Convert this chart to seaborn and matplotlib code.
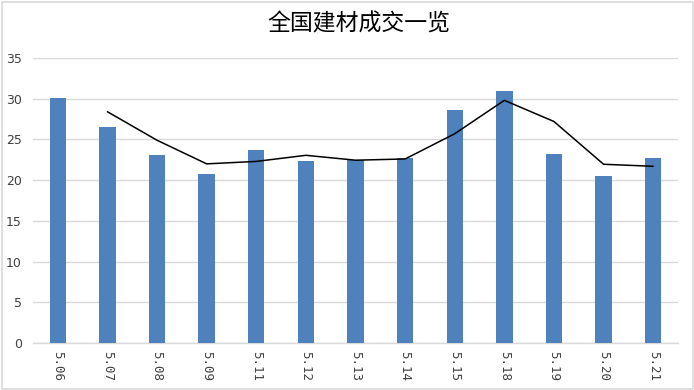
import matplotlib
matplotlib.use("Agg")
import matplotlib.pyplot as plt
import seaborn as sns
import pandas as pd
import numpy as np
from matplotlib.patches import Rectangle

dates = ["5.06", "5.07", "5.08", "5.09", "5.11", "5.12", "5.13",
         "5.14", "5.15", "5.18", "5.19", "5.20", "5.21"]
volume = [30.1, 26.5, 23.1, 20.8, 23.7, 22.4, 22.5,
          22.7, 28.6, 31.0, 23.2, 20.5, 22.7]
# trend line, starts at 5.07
trend_dates = dates[1:]
trend = [28.4, 24.9, 22.0, 22.3, 23.05, 22.45, 22.6,
         25.7, 29.8, 27.2, 21.95, 21.7]

sns.set_theme(style="white")
plt.rcParams['font.family'] = ['Noto Sans CJK SC', 'DejaVu Sans']

fig = plt.figure(figsize=(6.94, 3.90), dpi=100)
ax = fig.add_axes([33/694, (390-343)/390, (678-33)/694, (343-58)/390])

df = pd.DataFrame({"date": dates, "volume": volume})
sns.barplot(data=df, x="date", y="volume", color="#4F81BD", saturation=1,
            width=0.33, ax=ax, zorder=3, edgecolor="none", linewidth=0)

pos = {d: i for i, d in enumerate(dates)}
tdf = pd.DataFrame({"x": [pos[d] for d in trend_dates], "v": trend})
sns.lineplot(data=tdf, x="x", y="v", color="black", linewidth=1.1, ax=ax, zorder=4)

ax.set_xlim(-0.5, len(dates) - 0.5)
ax.set_ylim(0, 35)
ax.set_yticks(np.arange(0, 36, 5))
ax.yaxis.grid(True, color="#D9D9D9", linewidth=1)
ax.set_axisbelow(True)
for s in ["top", "right", "left"]:
    ax.spines[s].set_visible(False)
ax.spines["bottom"].set_color("#D9D9D9")
ax.spines["bottom"].set_linewidth(1)
ax.set_xlabel("")
ax.set_ylabel("")
ax.set_xticks(range(len(dates)))
ax.set_xticklabels(dates, rotation=270, fontsize=9, color="#404040",
                   family=['DejaVu Sans Mono', 'DejaVu Sans'])
ax.tick_params(axis="x", length=0, pad=6)
ax.tick_params(axis="y", length=0, pad=8, labelsize=9, labelcolor="#404040")
for lab in ax.get_yticklabels():
    lab.set_family(['DejaVu Sans', 'Noto Sans CJK SC'])
if ax.get_legend():
    ax.get_legend().remove()

fig.text(359/694, 1 - 24/390, "全国建材成交一览", ha="center", va="center",
         fontsize=16.5, color="black")

fig.patches.append(Rectangle((1.5/694, 1.5/390), 1 - 3/694, 1 - 3/390,
                             transform=fig.transFigure, fill=False,
                             edgecolor="#D9D9D9", linewidth=1.2))

fig.savefig("out.png", dpi=100)
